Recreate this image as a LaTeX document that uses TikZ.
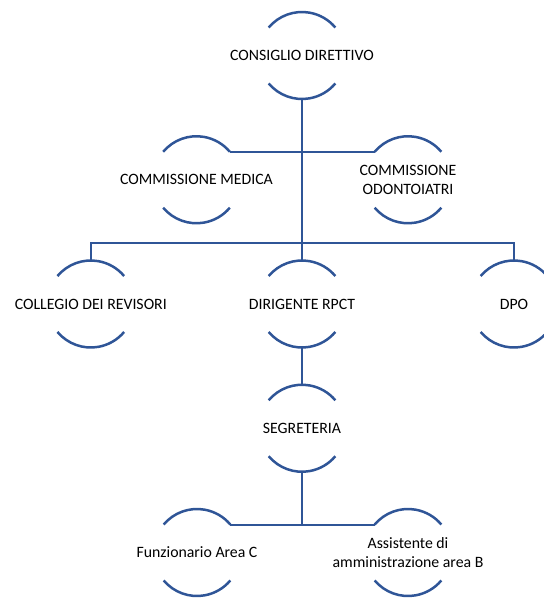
\documentclass[tikz,border=0pt]{standalone}
\usepackage{fontspec}
\setmainfont{Carlito}
\definecolor{smblue}{RGB}{47,85,151}
\begin{document}
\begin{tikzpicture}[x=1pt,y=1pt,
  ring/.style={circle,minimum size=87pt,inner sep=0pt,outer sep=0pt},
  txt/.style={font=\fontsize{15.8}{18.5}\selectfont,align=center,text=black,inner sep=0pt},
  arcline/.style={draw=smblue,line width=2.5pt},
  conn/.style={draw=smblue,line width=2pt}]
\useasboundingbox (0,0) rectangle (543,-599);
% nodes (circles with centered text)
\node[ring,label={[txt]center:CONSIGLIO DIRETTIVO}] (cd) at (302,-55.5) {};
\node[ring,label={[txt]center:COMMISSIONE MEDICA}] (cm) at (196.5,-179.75) {};
\node[ring,label={[txt]center:COMMISSIONE\\ODONTOIATRI}] (co) at (408,-179.75) {};
\node[ring,label={[txt]center:COLLEGIO DEI REVISORI}] (cr) at (90.8,-304) {};
\node[ring,label={[txt]center:DIRIGENTE RPCT}] (dr) at (302,-304) {};
\node[ring,label={[txt]center:DPO}] (dpo) at (514,-304) {};
\node[ring,label={[txt]center:SEGRETERIA}] (seg) at (302,-428.25) {};
\node[ring,label={[txt]center:Funzionario Area C}] (fun) at (197,-552.5) {};
\node[ring,label={[txt]center:Assistente di\\amministrazione area B}] (ass) at (408,-552.5) {};
% arcs
\foreach \n in {cd,cm,co,cr,dr,dpo,seg,fun,ass}{
  \draw[arcline] (\n.140) arc[start angle=140,end angle=40,radius=43.5pt];
  \draw[arcline] (\n.220) arc[start angle=220,end angle=320,radius=43.5pt];
}
% connectors
\coordinate (bus) at (302,-242.7);
\draw[conn] (cd.south) -- (dr.north);
\draw[conn] (cm.40) -- (co.140);
\draw[conn] (cr.north) |- (bus) -| (dpo.north);
\draw[conn] (dr.south) -- (seg.north);
\draw[conn] (seg.south) -- (seg.south |- fun.40);
\draw[conn] (fun.40) -- (ass.140);
\end{tikzpicture}
\end{document}
